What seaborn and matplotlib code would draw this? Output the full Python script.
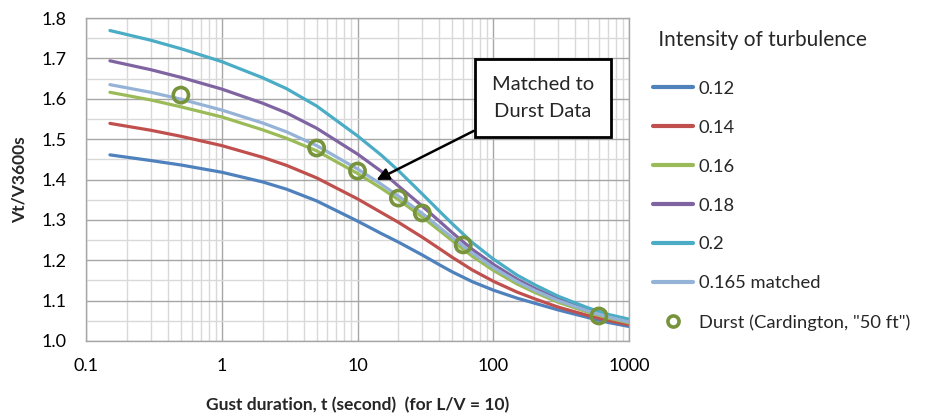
import pandas as pd
import matplotlib
matplotlib.use("Agg")
import matplotlib.pyplot as plt
import seaborn as sns
from matplotlib.lines import Line2D
from matplotlib.ticker import LogLocator, MultipleLocator, FixedLocator, FixedFormatter

# Datos
gust_t = [0.15, 0.3, 0.5, 1, 2, 3, 5, 10, 15, 20, 30, 40, 50, 70, 100, 150, 200, 300, 500, 700, 1000]
iu_012 = [1.461, 1.447, 1.436, 1.418, 1.394, 1.376, 1.347, 1.297, 1.266, 1.245, 1.213, 1.189, 1.171,
          1.147, 1.126, 1.106, 1.094, 1.077, 1.058, 1.046, 1.036]
iu_014 = [1.539, 1.522, 1.507, 1.484, 1.455, 1.435, 1.404, 1.352, 1.318, 1.294, 1.257, 1.229, 1.207,
          1.176, 1.148, 1.121, 1.105, 1.084, 1.063, 1.051, 1.040]
iu_016 = [1.616, 1.597, 1.580, 1.555, 1.523, 1.502, 1.471, 1.415, 1.378, 1.350, 1.307, 1.274, 1.248,
          1.210, 1.175, 1.141, 1.121, 1.096, 1.071, 1.057, 1.045]
iu_018 = [1.694, 1.672, 1.653, 1.624, 1.589, 1.565, 1.527, 1.463, 1.420, 1.384, 1.334, 1.297, 1.268,
          1.227, 1.190, 1.153, 1.131, 1.104, 1.077, 1.062, 1.050]
iu_020 = [1.769, 1.745, 1.724, 1.692, 1.652, 1.625, 1.582, 1.508, 1.460, 1.422, 1.364, 1.322, 1.290,
          1.244, 1.203, 1.163, 1.140, 1.111, 1.082, 1.066, 1.054]
iu_0165 = [1.635, 1.616, 1.599, 1.572, 1.540, 1.518, 1.484, 1.426, 1.388, 1.359, 1.316, 1.282, 1.256,
           1.218, 1.182, 1.147, 1.126, 1.100, 1.074, 1.060, 1.047]

durst_t = [0.5, 5, 10, 20, 30, 60, 600]
durst_ratio = [1.609, 1.478, 1.421, 1.354, 1.317, 1.238, 1.062]

series_names = ["0.12", "0.14", "0.16", "0.18", "0.2", "0.165 matched"]
series_colors = ["#4F81BD", "#C0504D", "#9BBB59", "#8064A2", "#4BACC6", "#95B3D7"]
durst_label = 'Durst (Cardington, "50 ft")'
durst_color = "#77933C"

# Tabla larga para seaborn
wide = pd.DataFrame({"t": gust_t, "0.12": iu_012, "0.14": iu_014, "0.16": iu_016,
                     "0.18": iu_018, "0.2": iu_020, "0.165 matched": iu_0165})
data = wide.melt(id_vars="t", var_name="Intensity", value_name="ratio")
durst = pd.DataFrame({"t": durst_t, "ratio": durst_ratio})

sns.set_style("white")
plt.rcParams["font.family"] = ["Lato", "DejaVu Sans"]

fig = plt.figure(figsize=(9.33, 4.16), dpi=100)
ax = fig.add_axes([0.0922, 0.1803, 0.582, 0.7764])

sns.lineplot(data=data, x="t", y="ratio", hue="Intensity", hue_order=series_names,
             palette=dict(zip(series_names, series_colors)), linewidth=2.3,
             legend=False, ax=ax)
sns.scatterplot(data=durst, x="t", y="ratio", marker="o", s=120, facecolors="none",
                edgecolor=durst_color, linewidth=2.6, ax=ax, zorder=5)

# Ejes
ax.set_xscale("log")
ax.set_xlim(0.1, 1000)
ax.set_ylim(1.0, 1.8)
ax.xaxis.set_major_locator(FixedLocator([0.1, 1, 10, 100, 1000]))
ax.xaxis.set_major_formatter(FixedFormatter(["0.1", "1", "10", "100", "1000"]))
ax.xaxis.set_minor_locator(LogLocator(base=10, subs=range(2, 10)))
ax.yaxis.set_major_locator(MultipleLocator(0.1))
ax.yaxis.set_minor_locator(MultipleLocator(0.05))
ax.yaxis.set_major_formatter(plt.FuncFormatter(lambda v, p: f"{v:.1f}"))
ax.grid(which="major", color="#A6A6A6", linewidth=1.0)
ax.grid(which="minor", color="#D9D9D9", linewidth=1.0)
ax.set_axisbelow(True)
for sp in ax.spines.values():
    sp.set_color("#A6A6A6")
    sp.set_linewidth(1.0)
ax.tick_params(which="both", length=0, labelsize=13, colors="black")
ax.tick_params(axis="y", pad=14)
ax.tick_params(axis="x", pad=12)
ax.xaxis.set_minor_formatter(plt.NullFormatter())

ax.set_xlabel("Gust duration, t (second)  (for L/V = 10)", fontsize=12.5,
              fontweight="bold", labelpad=17)
ax.set_ylabel("Vt/V3600s", fontsize=12.5, fontweight="bold", labelpad=10)

# Anotacion
ax.annotate("Matched to\nDurst Data", xy=(13.8, 1.399), xytext=(232, 1.601),
            fontsize=14.5, ha="center", va="center", linespacing=1.7,
            bbox=dict(boxstyle="square,pad=0.85", fc="white", ec="black", lw=2),
            arrowprops=dict(arrowstyle="-|>", color="black", lw=1.8,
                            relpos=(0.03, 0.0), mutation_scale=18,
                            shrinkA=0, shrinkB=0),
            zorder=6)

# Leyenda
handles = [Line2D([0], [0], color=c, lw=3) for c in series_colors]
handles.append(Line2D([0], [0], color=durst_color, marker="o", markerfacecolor="none",
                      markeredgewidth=2.6, markersize=8, linestyle="none"))
labels = series_names + [durst_label]
leg = fig.legend(handles, labels, title=" Intensity of turbulence", loc="upper left",
                 bbox_to_anchor=(0.692, 0.945), frameon=False, fontsize=13.2,
                 title_fontsize=15, labelspacing=1.25, handlelength=2.2,
                 handletextpad=0.3, borderaxespad=0)
leg._legend_box.align = "left"
leg._legend_box.sep = 22

fig.savefig("out.png", dpi=100)
